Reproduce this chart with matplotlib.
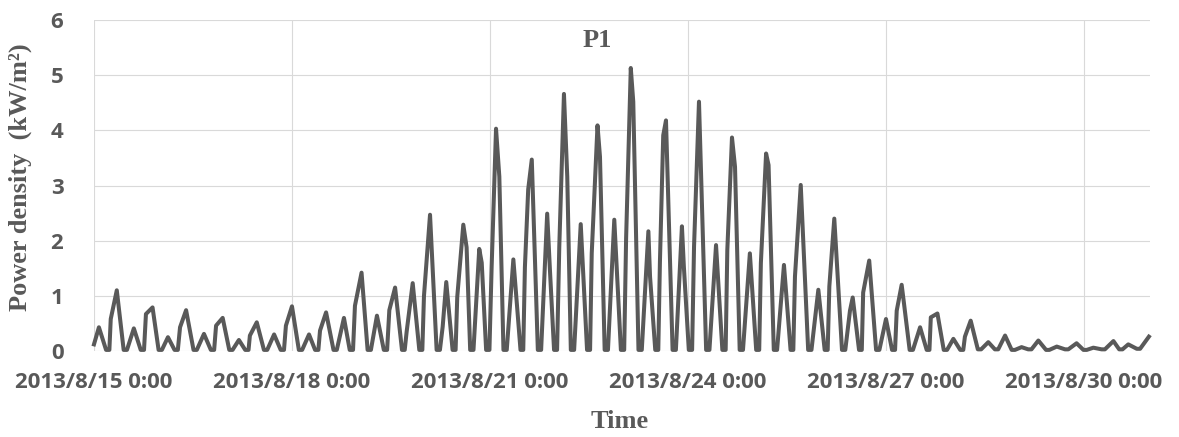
import pandas as pd
import matplotlib.pyplot as plt
import matplotlib.dates as mdates
from matplotlib.ticker import FuncFormatter


# Values, hours counted from 2013/8/15 0:00
peak_hours = [1.8, 8.3, 14.5, 21.3, 26.9, 33.5, 40.0, 46.8, 52.7, 59.2,
              65.5, 72.0, 78.2, 84.4, 90.9, 97.3, 102.9, 109.5, 115.9, 122.2,
              128.1, 134.3, 140.1, 146.2, 152.5, 159.2, 164.8, 170.9, 177.0, 183.1,
              189.2, 195.2, 201.6, 208.0, 213.8, 220.0, 226.2, 232.0, 238.5, 244.4,
              250.9, 257.0, 263.4, 269.2, 275.9, 281.9, 288.0, 293.7, 300.4, 306.7,
              312.5, 318.8, 325.2, 331.3, 337.3, 343.4, 350.1, 357.3, 363.4, 370.7,
              376.1, 383.6]
peak_vals = [0.43, 1.10, 0.41, 0.79, 0.25, 0.74, 0.31, 0.60, 0.20, 0.52,
             0.30, 0.81, 0.30, 0.70, 0.60, 1.42, 0.64, 1.15, 1.23, 2.47,
             1.25, 2.29, 1.85, 4.03, 1.66, 3.47, 2.49, 4.66, 2.30, 4.09,
             2.38, 5.13, 2.17, 4.18, 2.26, 4.52, 1.92, 3.87, 1.77, 3.58,
             1.56, 3.01, 1.11, 2.40, 0.97, 1.64, 0.58, 1.20, 0.43, 0.68,
             0.22, 0.55, 0.16, 0.28, 0.07, 0.19, 0.08, 0.14, 0.06, 0.18,
             0.12, 0.26]

# slack water: the curve sits near zero from start to end of each trough
trough_start = [0.0, 4.4, 10.8, 17.0, 23.5, 29.3, 36.2, 42.5, 49.2, 55.0,
                61.8, 67.9, 74.5, 80.4, 87.1, 93.0, 99.5, 105.4, 112.0, 118.3,
                124.6, 130.4, 136.8, 142.6, 148.9, 155.1, 161.4, 167.3, 173.4, 179.3,
                185.7, 191.6, 198.0, 204.1, 210.4, 216.3, 222.6, 228.5, 234.8, 240.8,
                247.2, 253.3, 259.7, 265.7, 272.0, 278.2, 284.4, 290.2, 296.6, 302.8,
                309.0, 315.0, 321.4, 327.6, 333.7, 339.7, 346.2, 353.1, 359.8, 366.4,
                372.8, 379.2]
trough_end = [0.0, 5.6, 12.0, 18.2, 24.7, 30.5, 37.4, 43.7, 50.4, 56.2,
              63.0, 69.1, 75.7, 81.6, 88.3, 94.2, 100.7, 106.6, 113.0, 119.4,
              125.8, 131.5, 138.0, 143.8, 150.1, 156.1, 162.6, 168.4, 174.6, 180.4,
              186.9, 192.8, 199.2, 205.2, 211.6, 217.5, 223.8, 229.7, 236.0, 241.9,
              248.4, 254.3, 260.9, 266.8, 273.2, 279.2, 285.6, 291.3, 297.8, 303.8,
              310.2, 316.1, 322.6, 328.8, 334.9, 340.9, 347.4, 354.3, 361.0, 367.6,
              374.0, 380.4]
trough_vals = [0.12, 0.02, 0.02, 0.02, 0.02, 0.02, 0.02, 0.02, 0.02, 0.02,
               0.02, 0.02, 0.02, 0.02, 0.02, 0.02, 0.02, 0.02, 0.02, 0.02,
               0.02, 0.02, 0.02, 0.02, 0.02, 0.02, 0.02, 0.02, 0.02, 0.02,
               0.02, 0.02, 0.02, 0.02, 0.02, 0.02, 0.02, 0.02, 0.02, 0.02,
               0.02, 0.02, 0.02, 0.02, 0.02, 0.02, 0.02, 0.02, 0.02, 0.02,
               0.02, 0.02, 0.03, 0.03, 0.02, 0.03, 0.02, 0.03, 0.02, 0.03,
               0.03, 0.04]

shoulder_hours = [6.1, 18.9, 31.3, 44.4, 56.7, 69.8, 82.2, 94.9, 107.4, 113.7,
                  120.0, 126.8, 132.1, 135.5, 141.0, 144.6, 147.4, 156.7, 157.9, 165.8,
                  169.2, 172.1, 181.0, 184.0, 193.5, 196.1, 202.2, 205.8, 207.0, 214.5,
                  218.2, 230.3, 233.1, 242.5, 245.3, 254.9, 267.4, 274.9, 279.7, 291.9,
                  294.5, 304.3, 316.7]
shoulder_vals = [0.58, 0.67, 0.43, 0.46, 0.28, 0.46, 0.37, 0.82, 0.74, 0.35,
                 1.00, 0.44, 0.98, 1.88, 1.60, 1.52, 3.16, 1.52, 2.93, 1.47,
                 1.89, 3.16, 1.77, 3.52, 2.04, 4.52, 1.35, 1.62, 3.91, 1.53,
                 1.89, 1.83, 3.34, 1.59, 3.37, 1.35, 1.17, 0.73, 1.06, 0.73,
                 0.88, 0.61, 0.26]

tick_days = [15, 18, 21, 24, 27, 30]
y_ticks = [0, 1, 2, 3, 4, 5, 6]


start = pd.Timestamp('2013-08-15 00:00')
df = pd.DataFrame({
    'hours': peak_hours + trough_start + trough_end + shoulder_hours,
    'power': peak_vals + trough_vals + trough_vals + shoulder_vals,
}).sort_values('hours', kind='stable')
df['time'] = start + pd.to_timedelta(df['hours'], unit='h')

gray = '#595959'
plt.rcParams['font.family'] = ['Open Sans', 'DejaVu Sans']
plt.rcParams['font.weight'] = 'bold'

fig, ax = plt.subplots(figsize=(11.79, 4.37), dpi=100)
fig.subplots_adjust(left=0.0797, right=0.9754, top=0.9542, bottom=0.1968)

ax.plot(df['time'], df['power'], color=gray, lw=2.9,
        solid_joinstyle='round', clip_on=False, zorder=3)

ax.set_xlim(start, start + pd.Timedelta(days=16))
ax.set_ylim(0, 6)
ax.set_yticks(y_ticks)
ax.xaxis.set_major_locator(mdates.DayLocator(bymonthday=tick_days))


def fmt_date(x, pos):
    d = mdates.num2date(x)
    return f'{d.year}/{d.month}/{d.day} {d.hour}:{d.minute:02d}'


ax.xaxis.set_major_formatter(FuncFormatter(fmt_date))

ax.grid(True, color='#d9d9d9', lw=0.8)
ax.set_axisbelow(True)
for s in ax.spines.values():
    s.set_visible(False)
ax.tick_params(axis='both', length=0, labelsize=16, labelcolor=gray)
ax.tick_params(axis='x', pad=15)
ax.tick_params(axis='y', pad=22)

serif = dict(family='Liberation Serif', weight='bold', size=19, color=gray)
ax.set_ylabel('Power density  (kW/m\u00b2)', **serif)
ax.yaxis.set_label_coords(-0.0587, 0.526)
ax.set_xlabel('Time', **serif)
ax.xaxis.set_label_coords(0.498, -0.178)
ax.text(0.477, 0.918, 'P1', transform=ax.transAxes, ha='center', va='baseline', **serif)

plt.savefig('out.png', dpi=100)
